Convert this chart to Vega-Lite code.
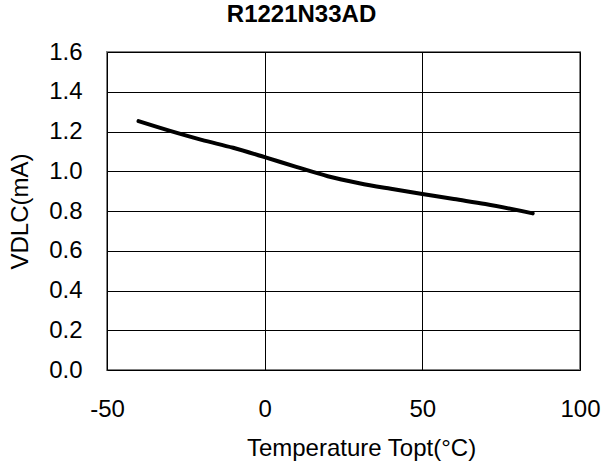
{
  "$schema": "https://vega.github.io/schema/vega-lite/v6.json",
  "autosize": "none",
  "width": 473,
  "height": 318,
  "padding": {"left": 107, "top": 52, "right": 22, "bottom": 97},
  "background": "white",
  "title": {
    "text": "R1221N33AD",
    "font": "Liberation Sans",
    "fontSize": 24,
    "fontWeight": "bold",
    "color": "black",
    "anchor": "middle",
    "frame": "group",
    "dx": -42,
    "offset": 13
  },
  "config": {
    "view": {"stroke": "#808080", "strokeWidth": 2},
    "axis": {
      "labelFont": "Liberation Sans",
      "titleFont": "Liberation Sans",
      "labelColor": "black",
      "titleColor": "black",
      "labelFontSize": 24,
      "titleFontSize": 24,
      "titleFontWeight": "normal",
      "domain": false,
      "ticks": false,
      "gridColor": "black",
      "gridOpacity": 1,
      "gridWidth": 1
    }
  },
  "data": {
    "values": [
      {"t": -40, "v": 1.252},
      {"t": -30, "v": 1.203},
      {"t": -20, "v": 1.158},
      {"t": -10, "v": 1.118},
      {"t": 0, "v": 1.071},
      {"t": 10, "v": 1.022},
      {"t": 20, "v": 0.975},
      {"t": 30, "v": 0.94},
      {"t": 40, "v": 0.912},
      {"t": 50, "v": 0.886},
      {"t": 60, "v": 0.86},
      {"t": 70, "v": 0.835},
      {"t": 85, "v": 0.788}
    ]
  },
  "mark": {"type": "line", "color": "black", "strokeWidth": 4, "interpolate": "monotone", "strokeCap": "round"},
  "encoding": {
    "x": {
      "field": "t",
      "type": "quantitative",
      "scale": {"domain": [-50, 100], "nice": false, "zero": false},
      "axis": {
        "values": [-50, 0, 50, 100],
        "labelExpr": "'' + datum.value",
        "title": "Temperature Topt(°C)",
        "labelPadding": 27,
        "labelFlush": false,
        "titleX": 254,
        "titleY": 78,
        "titleBaseline": "middle",
        "titleAnchor": "middle"
      }
    },
    "y": {
      "field": "v",
      "type": "quantitative",
      "scale": {"domain": [0, 1.6], "nice": false},
      "axis": {
        "values": [0, 0.2, 0.4, 0.6, 0.8, 1.0, 1.2, 1.4, 1.6],
        "format": ".1f",
        "title": "VDLC(mA)",
        "labelPadding": 25,
        "titleX": -87,
        "titleY": 159,
        "titleBaseline": "middle",
        "titleAngle": -90,
        "titleAnchor": "middle"
      }
    }
  }
}
